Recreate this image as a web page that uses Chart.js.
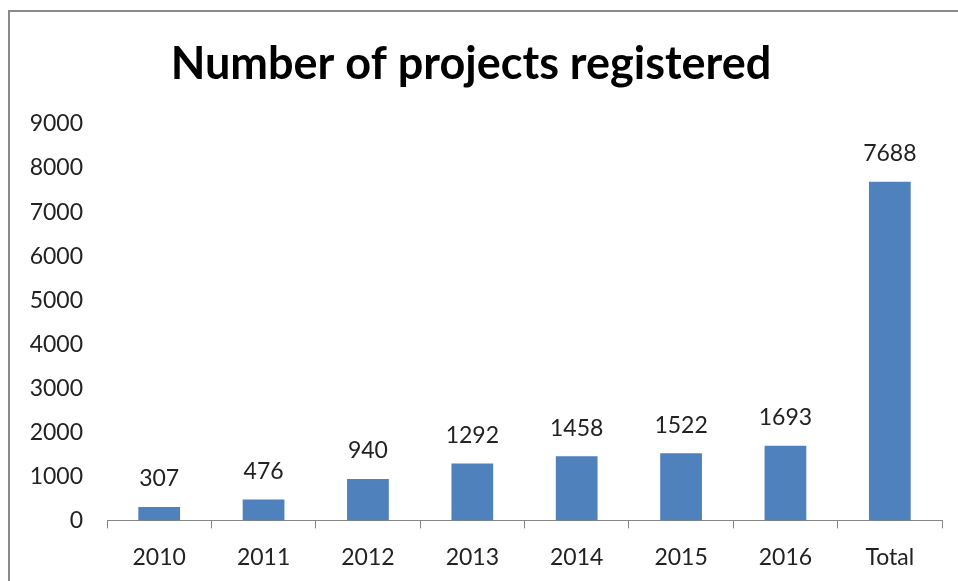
<!DOCTYPE html>
<html>
<head>
<meta charset="utf-8">
<script src="https://cdn.jsdelivr.net/npm/chart.js@4"></script>
<style>
  body { margin: 0; background: #fff; overflow: hidden; }
  .frame { position: absolute; left: 8px; top: 10px; width: 1000px; height: 700px; border: 2px solid #8a8a8a; }
  .wrap { position: absolute; left: 0; top: 0; width: 958px; height: 586px; }
</style>
</head>
<body>
<div class="frame"></div>
<div class="wrap"><canvas id="myChart"></canvas></div>
<script>
const years = ['2010', '2011', '2012', '2013', '2014', '2015', '2016', 'Total'];
const projects = [307, 476, 940, 1292, 1458, 1522, 1693, 7688];
const yTicks = [0, 1000, 2000, 3000, 4000, 5000, 6000, 7000, 8000, 9000];

// labels above each bar
const barLabels = {
  id: 'barLabels',
  afterDatasetsDraw(chart) {
    const ctx = chart.ctx;
    const meta = chart.getDatasetMeta(0);
    ctx.save();
    ctx.font = '23px Lato';
    ctx.fillStyle = '#222';
    ctx.textAlign = 'center';
    ctx.textBaseline = 'middle';
    meta.data.forEach((bar, i) => {
      ctx.fillText(projects[i], bar.x, bar.y - 28);
    });
    ctx.restore();
  }
};

let mychart = new Chart(document.getElementById('myChart'), {
  type: 'bar',
  data: {
    labels: years,
    datasets: [{
      label: 'Projects',
      data: projects,
      backgroundColor: '#4f81bd',
      categoryPercentage: 1,
      barPercentage: 0.4
    }]
  },
  options: {
    responsive: true,
    maintainAspectRatio: false,
    animation: false,
    layout: { padding: { left: 0, right: 16, top: 0, bottom: 0 } },
    plugins: {
      legend: { display: false },
      tooltip: { enabled: false },
      title: {
        display: true,
        text: 'Number of projects registered',
        color: '#000',
        font: { family: 'Lato', size: 45, weight: 'bold', lineHeight: 1.2 },
        padding: { top: 37, bottom: 33 }
      }
    },
    scales: {
      x: {
        grid: { display: true, drawOnChartArea: false, drawTicks: true, tickLength: 8, color: '#868686', offset: true },
        border: { display: true, color: '#868686', width: 1 },
        ticks: { color: '#222', font: { family: 'Lato', size: 23 }, padding: 15, maxRotation: 0 }
      },
      y: {
        min: 0,
        max: 9000,
        afterBuildTicks: (scale) => { scale.ticks = yTicks.map(v => ({ value: v })); },
        afterFit: (scale) => { scale.width = 107; },
        grid: { display: false, drawTicks: false },
        border: { display: false },
        ticks: { color: '#222', font: { family: 'Lato', size: 23 }, padding: 24, callback: (v) => String(v) }
      }
    }
  },
  plugins: [barLabels]
});
</script>
</body>
</html>
